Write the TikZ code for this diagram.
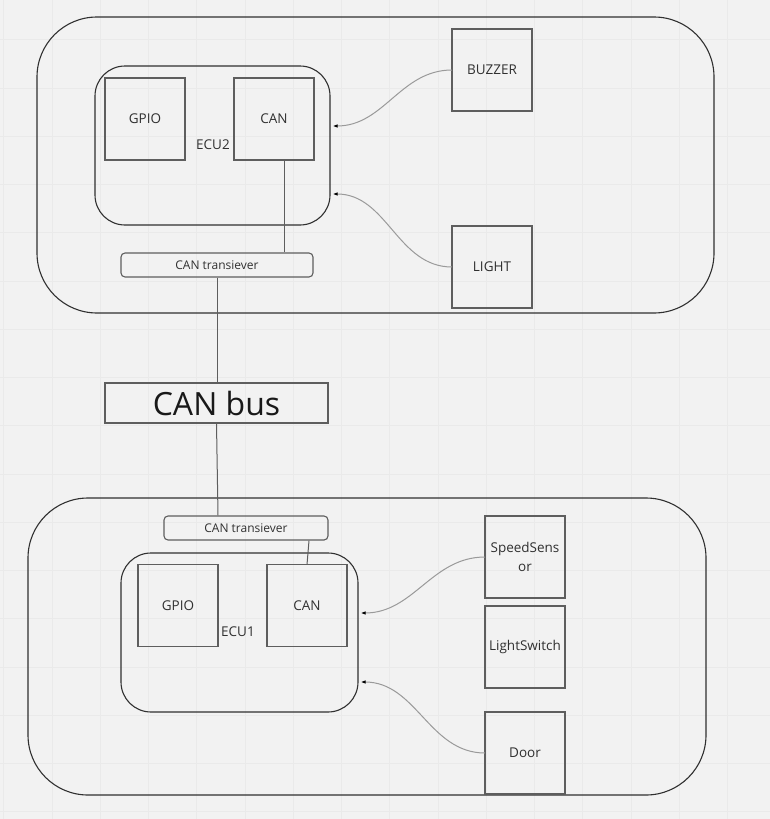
\documentclass[tikz,border=0pt]{standalone}
\usepackage{fontspec}
\setmainfont{Open Sans}
\usetikzlibrary{positioning, arrows.meta}
\definecolor{canvas}{HTML}{F2F2F2}
\definecolor{gridgray}{HTML}{EAEAEA}
\definecolor{boxgray}{HTML}{5E5E5E}
\definecolor{linkgray}{HTML}{9A9A9A}
\definecolor{ink}{HTML}{303030}
\tikzset{
    board/.style={rectangle, draw=ink, line width=1.1pt, rounded corners=60pt, inner sep=0pt},
    ecu/.style={rectangle, draw=ink, line width=1.1pt, rounded corners=30pt, inner sep=0pt},
    module/.style={rectangle, draw=boxgray, line width=1.2pt, minimum width=80pt, minimum height=82pt, inner sep=0pt, outer sep=0pt, align=center, text=ink, font=\fontsize{13.5}{19}\selectfont},
    xcvr/.style={rectangle, draw=boxgray, line width=1.1pt, rounded corners=4pt, inner sep=0pt, minimum height=24pt, text=ink, font=\fontsize{12}{14}\selectfont},
    bus/.style={rectangle, draw=boxgray, line width=1.2pt, minimum width=223pt, minimum height=40pt, inner sep=0pt, text=black!90, font=\fontsize{32}{38}\selectfont},
    tag/.style={text=ink, font=\fontsize{13.5}{16}\selectfont},
    wire/.style={draw=boxgray, line width=1pt},
    signal/.style={draw=linkgray, line width=1pt, -{Latex[length=5pt, width=3.5pt, color=black]}}
}
\begin{document}
\begin{tikzpicture}[x=1pt, y=-1pt]
    % canvas and grid
    \fill[canvas] (0,0) rectangle (770,819);
    \useasboundingbox (0,0) rectangle (770,819);
    \foreach \gx in {0,...,15}
        \draw[gridgray, line width=0.7pt] ({3.75+48.25*\gx},0) -- ++(0,819);
    \foreach \gy in {0,...,16}
        \draw[gridgray, line width=0.7pt] (0,{39.75+48.25*\gy}) -- ++(770,0);

    % Upper board (ECU2)
    \node[board, minimum width=677pt, minimum height=296pt] (boardTop) at (375.5,165) {};
    \node[ecu, minimum width=235pt, minimum height=159pt] (ecu2) at (212.5,145.5) {};
    \node[module] (gpio2) at (145,119) {GPIO};
    \node[module, right=49pt of gpio2] (can2) {CAN};
    \node[tag] at (213,145) {ECU2};
    \node[xcvr, minimum width=192pt] (xcvr2) at (217,265) {CAN transiever};
    \node[module] (buzzer) at (492,70) {BUZZER};
    \node[module] (light) at (492,267) {LIGHT};

    % Bus
    \node[bus] (bus) at (216.5,403) {CAN bus};

    % Lower board (ECU1)
    \node[board, minimum width=678pt, minimum height=297pt] (boardBot) at (367,646.5) {};
    \node[ecu, minimum width=237pt, minimum height=159pt] (ecu1) at (239.5,632.5) {};
    \node[module] (gpio1) at (178,605.5) {GPIO};
    \node[module, right=49pt of gpio1] (can1) {CAN};
    \node[tag] at (238,632) {ECU1};
    \node[xcvr, minimum width=164pt] (xcvr1) at (246,528) {CAN transiever};
    \node[module] (speed) at (525,557) {SpeedSens\\or};
    \node[module, below=8pt of speed] (lswitch) {LightSwitch};
    \node[module, below=24pt of lswitch] (door) {Door};

    % Connections
    \draw[wire] ([xshift=10.5pt]can2.south) -- ([xshift=10.5pt]can2.south |- xcvr2.north);
    \draw[wire] (xcvr2.south) -- (xcvr2.south |- bus.north);
    \draw[wire] (bus.south) -- ([xshift=1.5pt]bus.south |- xcvr1.north);
    \draw[wire] ([xshift=63pt]xcvr1.south) -- (can1.north);

    \draw[signal] (buzzer.west) to[out=180, in=0] ([xshift=2pt, yshift=19.5pt]ecu2.east);
    \draw[signal] (light.west) to[out=180, in=0] ([xshift=2pt, yshift=-48.5pt]ecu2.east);
    \draw[signal] (speed.west) to[out=180, in=0] ([xshift=2pt, yshift=19.5pt]ecu1.east);
    \draw[signal] (door.west) to[out=180, in=0] ([xshift=2pt, yshift=-49.5pt]ecu1.east);

\end{tikzpicture}
\end{document}
